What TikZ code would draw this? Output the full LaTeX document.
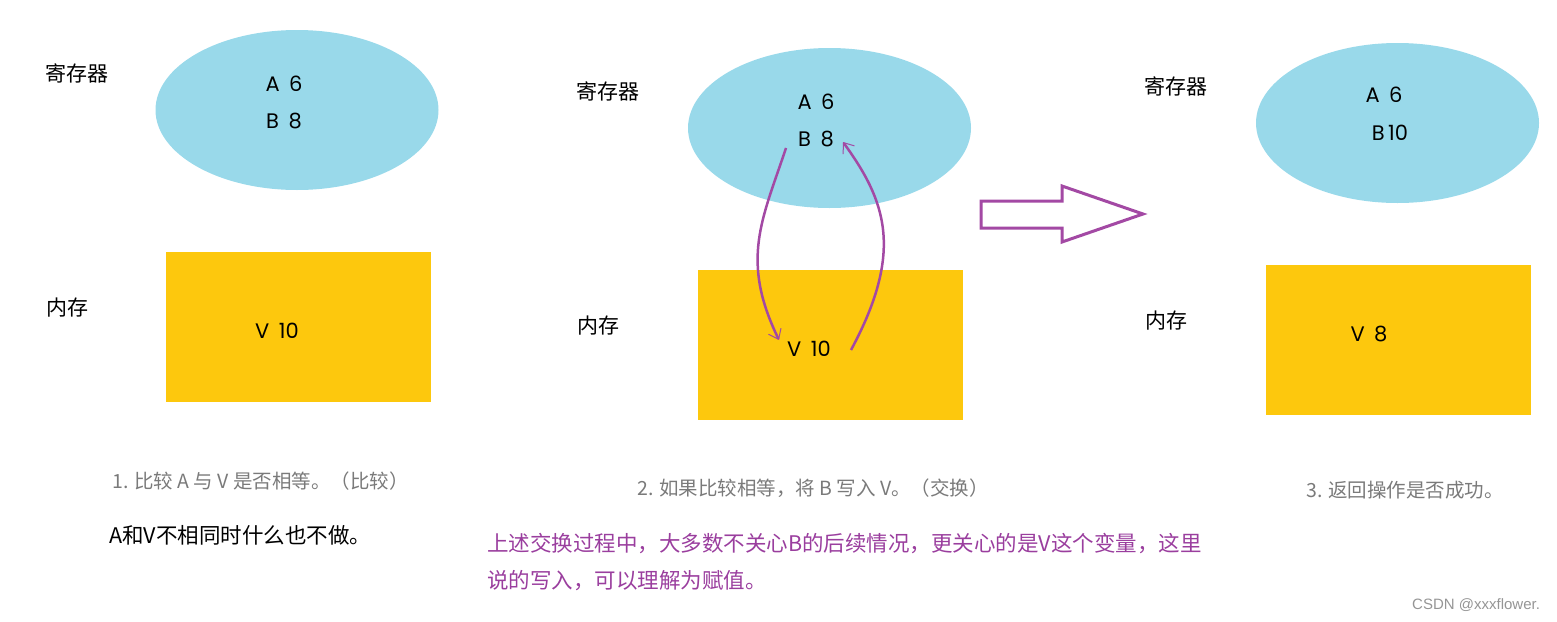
\documentclass[tikz,border=0pt]{standalone}
\usepackage{fontspec}
\setmainfont{Poppins}
\newfontfamily\cjk{Noto Sans CJK SC}
\usetikzlibrary{shapes.geometric,arrows.meta}
\definecolor{regblue}{HTML}{99D9EA}
\definecolor{memyellow}{HTML}{FDC80D}
\definecolor{arrpurple}{HTML}{A349A4}
\definecolor{txtpurple}{HTML}{9A3E9E}
\definecolor{capgray}{HTML}{7A7A7A}
\newcommand{\vsp}{\hspace{0.45em}}
\tikzset{
  regellipse/.style={ellipse,fill=regblue,minimum width=283pt,minimum height=160pt,inner sep=0pt},
  memrect/.style={rectangle,fill=memyellow,minimum width=265pt,minimum height=150pt,inner sep=0pt},
  valtext/.style={inner sep=0pt,font=\fontsize{21}{25}\selectfont},
  lbltext/.style={inner sep=0pt,font=\cjk\fontsize{21}{25}\selectfont},
  captext/.style={inner sep=0pt,anchor=west,text=capgray,font=\cjk\fontsize{19.5}{23}\selectfont},
  notetext/.style={inner sep=0pt,anchor=west,font=\cjk\fontsize{21.5}{25}\selectfont},
  pnotetext/.style={inner sep=0pt,anchor=west,text=txtpurple,font=\cjk\fontsize{21.5}{25}\selectfont},
  swaparrow/.style={draw=arrpurple,line width=2.5pt,-{Straight Barb[length=9pt,width=14pt,line width=1pt]}},
  bigarrow/.style={draw=arrpurple,line width=3pt,fill=white,line join=miter}
}
\begin{document}
\begin{tikzpicture}[x=1pt,y=-1pt]
\useasboundingbox (0,0) rectangle (1557,621);
% panel 1
\node[regellipse] (e1) at (297,110) {};
\node[memrect] (m1) at (298.5,327) {};
\node[lbltext] (l1a) at (77,73) {寄存器};
\node[lbltext] (l1b) at (67,308) {内存};
\node[valtext] (a1) at (284,84) {A\vsp6};
\node[valtext] (b1) at (284,121) {B\vsp8};
\node[valtext] (v1) at (277,331) {V\vsp10};
% panel 2
\node[regellipse] (e2) at (829.5,128) {};
\node[memrect] (m2) at (830.5,344.5) {};
\node[lbltext] (l2a) at (608,91) {寄存器};
\node[lbltext] (l2b) at (598,326) {内存};
\node[valtext] (a2) at (816,102) {A\vsp6};
\node[valtext] (b2) at (816,139) {B\vsp8};
\node[valtext] (v2) at (809,349) {V\vsp10};
% panel 3
\node[regellipse] (e3) at (1397.5,123) {};
\node[memrect] (m3) at (1398.5,339.5) {};
\node[lbltext] (l3a) at (1176,86) {寄存器};
\node[lbltext] (l3b) at (1166,321) {内存};
\node[valtext] (a3) at (1384,95) {A\vsp6};
\node[valtext] (b3) at (1390,133) {B\,10};
\node[valtext] (v3) at (1369,334) {V\vsp8};
% swap arrows
\coordinate (s1) at (786,148);
\coordinate (t1) at (779,340);
\coordinate (s2) at (851,350);
\coordinate (t2) at (843,142);
\draw[swaparrow] (s1) .. controls (762,220) and (740,260) .. (t1);
\draw[swaparrow] (s2) .. controls (905,250) and (885,200) .. (t2);
% big hollow arrow
\draw[bigarrow] (981,201) -- (1062,201) -- (1062,186) -- (1143,214) -- (1062,242) -- (1062,228) -- (981,228) -- cycle;
% captions
\node[captext] (c1) at (112,481) {1. 比较 A 与 V 是否相等。（比较）};
\node[captext] (c2) at (637,488) {2. 如果比较相等，将 B 写入 V。（交换）};
\node[captext] (c3) at (1306,490) {3. 返回操作是否成功。};
\node[notetext] (n1) at (109,535) {A和V不相同时什么也不做。};
\node[pnotetext] (p1) at (487,544) {上述交换过程中，大多数不关心B的后续情况，更关心的是V这个变量，这里};
\node[pnotetext] (p2) at (487,581) {说的写入，可以理解为赋值。};
\node[inner sep=0pt,anchor=west,text=capgray!80,font=\fontsize{15}{18}\selectfont\fontspec{Liberation Sans}] (w) at (1412,605) {CSDN @xxxflower.};
\end{tikzpicture}
\end{document}
